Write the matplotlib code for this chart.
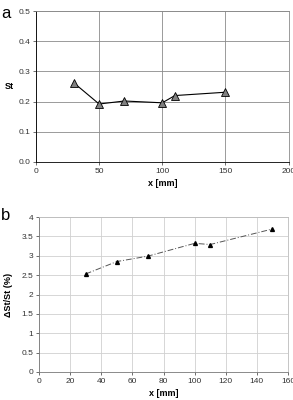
import matplotlib.pyplot as plt
import numpy as np

# Data
x_mm = [30, 50, 70, 100, 110, 150]
st_values = [0.262, 0.192, 0.202, 0.196, 0.220, 0.231]
dst_pct = [2.53, 2.85, 2.99, 3.32, 3.29, 3.69]

a_xticks = [0, 50, 100, 150, 200]
a_yticks = [0.0, 0.1, 0.2, 0.3, 0.4, 0.5]
b_xticks = [0, 20, 40, 60, 80, 100, 120, 140, 160]
b_yticks = [0, 0.5, 1, 1.5, 2, 2.5, 3, 3.5, 4]

plt.rcParams["font.family"] = ["Liberation Sans", "DejaVu Sans"]
TICK_FS = 6

fig = plt.figure(figsize=(2.93, 4.00), dpi=100)
W, H = 293, 400


def axes_px(left, top, right, bottom):
    return fig.add_axes([left / W, 1 - bottom / H, (right - left) / W, (bottom - top) / H])


# Panel a
ax1 = axes_px(36, 11, 288.5, 162)
ax1.plot(x_mm, st_values, color="black", lw=0.8, marker="^", ms=6,
         markerfacecolor="#808080", markeredgecolor="black", markeredgewidth=0.6, zorder=3)
ax1.set_xlim(0, 200)
ax1.set_ylim(0, 0.5)
ax1.set_xticks(a_xticks)
ax1.set_xticklabels([str(t) for t in a_xticks])
ax1.set_yticks(a_yticks)
ax1.set_yticklabels([f"{t:.1f}" for t in a_yticks])
ax1.grid(True, color="#8a8a8a", lw=0.6)
ax1.set_axisbelow(True)
for s in ax1.spines.values():
    s.set_color("#8a8a8a")
    s.set_linewidth(0.6)
ax1.spines["left"].set_color("black")
ax1.spines["bottom"].set_color("black")
ax1.tick_params(labelsize=TICK_FS, length=2, width=0.5, pad=2, colors="#333333")
ax1.set_xlabel("x [mm]", fontsize=6.5, fontweight="bold", labelpad=3)
ax1.set_ylabel("St", fontsize=6.5, fontweight="bold", rotation=0, labelpad=7, va="center")
fig.text(1 / W, 1 - 14 / H, "a", fontsize=12, va="center", ha="left")

# Panel b
ax2 = axes_px(39, 217, 288, 372)
ax2.plot(x_mm, dst_pct, color="#555555", lw=0.7, ls=(0, (6, 2, 1, 2)), marker="^", ms=2.8,
         markerfacecolor="black", markeredgecolor="black", zorder=3)
ax2.set_xlim(0, 160)
ax2.set_ylim(0, 4)
ax2.set_xticks(b_xticks)
ax2.set_xticklabels([str(t) for t in b_xticks])
ax2.set_yticks(b_yticks)
ax2.set_yticklabels([f"{t:g}" for t in b_yticks])
ax2.grid(True, color="#d0d0d0", lw=0.6)
ax2.set_axisbelow(True)
for s in ax2.spines.values():
    s.set_color("#bbbbbb")
    s.set_linewidth(0.6)
ax2.spines["left"].set_color("#777777")
ax2.spines["bottom"].set_color("#777777")
ax2.tick_params(labelsize=TICK_FS, length=2, width=0.5, pad=2, colors="#333333")
ax2.set_xlabel("x [mm]", fontsize=6.5, fontweight="bold", labelpad=3)
ax2.set_ylabel("ΔSt/St (%)", fontsize=6.5, fontweight="bold", labelpad=6)
fig.text(1 / W, 1 - 216 / H, "b", fontsize=12, va="center", ha="left")

fig.savefig("out.png", dpi=100)
